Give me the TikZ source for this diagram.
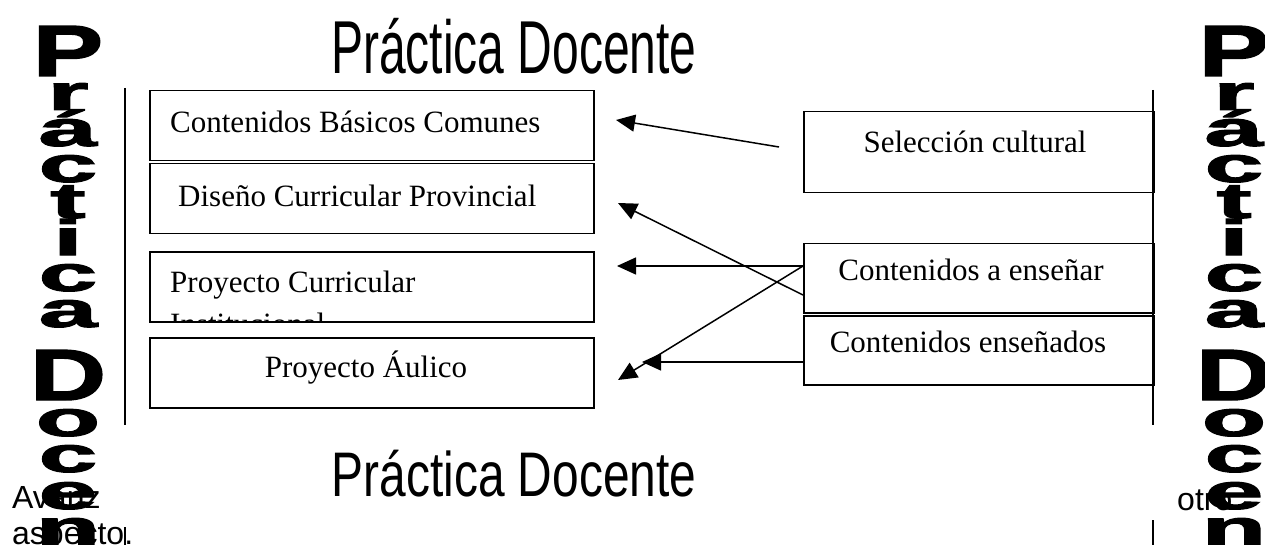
\documentclass[tikz,border=0pt]{standalone}
\usepackage{fontspec}
\setmainfont{Liberation Serif}
\newfontfamily\arial{Liberation Sans}
\newfontfamily\negra[FakeBold=2]{Liberation Sans Bold}
\usetikzlibrary{arrows.meta}

\tikzset{
  caja/.style={draw, line width=1.5pt, minimum width=444pt, minimum height=70pt, inner sep=0pt, anchor=north west},
  cajader/.style={caja, minimum width=350pt},
  texto/.style={font=\fontsize{31}{35}\selectfont, inner sep=0pt, anchor=base},
  flecha/.style={line width=1.5pt, -{Triangle[length=19pt,width=17pt]}},
  letra/.style={font=\fontsize{50}{50}\selectfont\negra, inner sep=0pt, anchor=base},
  cuerpo/.style={font=\fontsize{32}{36}\selectfont\arial, inner sep=0pt, anchor=base west},
}

\begin{document}
\begin{tikzpicture}[x=1pt,y=-1pt]
  \useasboundingbox[fill=white] (0,0) rectangle (1265,545);

  % texto del documento que asoma por los bordes
  \begin{scope}
    \clip (0,470) rectangle (100,516);
    \node[cuerpo] (avanza) at (12,508) {Avanza};
  \end{scope}
  \begin{scope}
    \clip (1175,470) rectangle (1265,516);
    \node[cuerpo] (otro) at (1177,510) {otro};
  \end{scope}
  \node[cuerpo] (aspecto) at (12,544) {aspecto.};

  % titulos
  \node[inner sep=0pt, anchor=base, font=\fontsize{75}{75}\selectfont\arial] (titulo) at (514,74) {\scalebox{0.64}[1]{Práctica Docente}};
  \node[inner sep=0pt, anchor=base, font=\fontsize{63}{63}\selectfont\arial] (pie) at (514,496) {\scalebox{0.76}[1]{Práctica Docente}};

  % lineas verticales
  \draw[line width=1.5pt] (125,88) -- (125,425);
  \draw[line width=1.5pt] (1153,90) -- (1153,425);
  \draw[line width=1.5pt] (125,527) -- (125,545);
  \draw[line width=1.5pt] (1153,520) -- (1153,545);

  % cajas de la izquierda
  \node[caja] (cbc) at (149,90) {};
  \node[caja] (dcp) at (149,163) {};
  \node[caja] (pci) at (149,251) {};
  \node[caja] (pa) at (149,337) {};
  \node[texto, anchor=base west] (cbctxt) at (170,133) {Contenidos Básicos Comunes};
  \node[texto, anchor=base west] (dcptxt) at (178,207) {Diseño Curricular Provincial};
  \begin{scope}
    \clip (pci.north west) rectangle (pci.south east);
    \node[texto, anchor=base west, align=left, font=\fontsize{31}{42}\selectfont] (pcitxt) at (170,334) {Proyecto Curricular\\Institucional};
  \end{scope}
  \node[texto] (patxt) at (366,377) {Proyecto Áulico};

  % cajas de la derecha
  \node[cajader, minimum height=81pt] (sel) at (803,111) {};
  \node[cajader, minimum height=69pt] (ae) at (803,243) {};
  \node[cajader, minimum height=69pt] (ce) at (803,315) {};
  \node[texto] (seltxt) at (975,153) {Selección cultural};
  \node[texto] (aetxt) at (971,280) {Contenidos a enseñar};
  \node[texto] (cetxt) at (968,352) {Contenidos enseñados};

  % flechas
  \coordinate (selsal) at (779,147);
  \coordinate (cbclleg) at (616,120);
  \coordinate (aesup) at (803,266);
  \coordinate (aeinf) at (803,295);
  \coordinate (cesal) at (803,362);
  \coordinate (dcplleg) at (618,203);
  \coordinate (pcilleg) at (617,266);
  \coordinate (palleg) at (618,380);
  \coordinate (palleg2) at (642,362);
  \draw[flecha] (selsal) -- (cbclleg);
  \draw[flecha] (aeinf) -- (dcplleg);
  \draw[flecha] (aesup) -- (pcilleg);
  \draw[flecha] (aesup) -- (palleg);
  \draw[flecha] (cesal) -- (palleg2);

  % letras verticales a ambos lados
  \foreach [count=\i] \l/\s/\b in {P/1.45/76, r/1/110, á/1/146, c/1/182, t/1/218, i/1/255, c/1/291, a/1/327, D/1.45/400, o/1/436, c/1/472, e/1/509, n/1/545} {
    \node[letra] (izq\i) at (68,\b) {\scalebox{2.1}[\s]{\l}};
    \node[letra] (der\i) at (1234,\b) {\scalebox{2.1}[\s]{\l}};
  }
\end{tikzpicture}
\end{document}
